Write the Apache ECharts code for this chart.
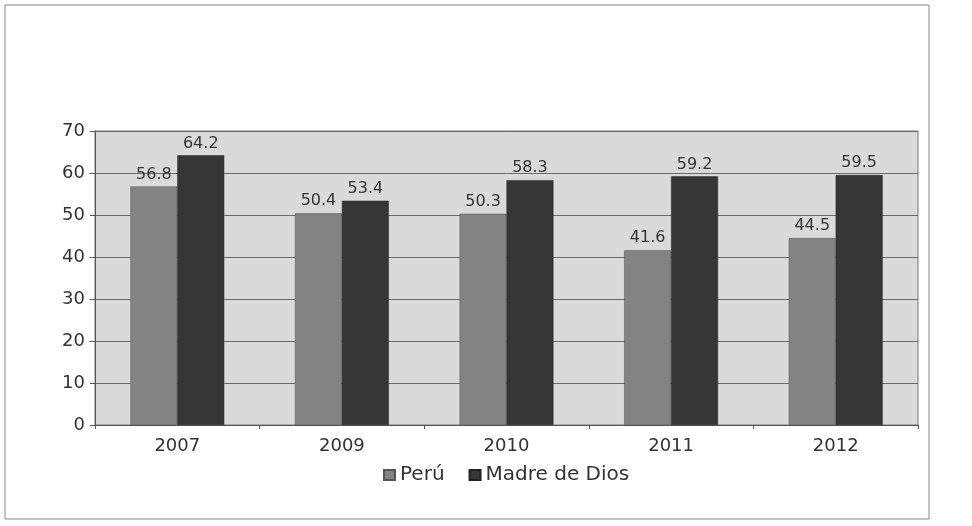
<!DOCTYPE html>
<html>
<head>
<meta charset="utf-8">
<script src="https://cdn.jsdelivr.net/npm/echarts@6/dist/echarts.min.js"></script>
<style>
  html, body { margin: 0; padding: 0; background: #fff; }
  #chart { width: 972px; height: 526px; }
</style>
</head>
<body>
<div id="chart"></div>
<script>
// datos
const years = ['2007', '2009', '2010', '2011', '2012'];
const peru = [56.8, 50.4, 50.3, 41.6, 44.5];
const madreDeDios = [64.2, 53.4, 58.3, 59.2, 59.5];

const chart = echarts.init(document.getElementById('chart'));

const font = 'DejaVu Sans, Verdana, sans-serif';
const labelStyle = {
    show: true,
    position: 'top',
    distance: 4,
    color: '#333',
    fontFamily: font,
    fontSize: 16,
    formatter: p => p.value.toFixed(1)
};

chart.setOption({
    backgroundColor: '#fff',
    animation: false,
    textStyle: { fontFamily: font },
    // marco exterior del recorte escaneado
    graphic: [{
        type: 'rect',
        shape: { x: 5, y: 5, width: 924, height: 514 },
        style: { fill: 'none', stroke: '#888', lineWidth: 1 },
        silent: true
    }],
    grid: {
        left: 95, right: 54, top: 131, bottom: 101,
        show: true,
        backgroundColor: '#dadada',
        borderColor: '#777',
        borderWidth: 1
    },
    legend: {
        data: ['Perú', 'Madre de Dios'],
        left: 378,
        top: 460,
        icon: 'rect',
        itemWidth: 11,
        itemHeight: 10,
        itemGap: 24,
        textStyle: { fontSize: 20, color: '#333' }
    },
    xAxis: {
        type: 'category',
        data: years,
        axisLine: { lineStyle: { color: '#555' } },
        axisTick: { show: true, length: 4, lineStyle: { color: '#555' } },
        axisLabel: { color: '#333', fontSize: 18, margin: 12 }
    },
    yAxis: {
        type: 'value',
        min: 0, max: 70, interval: 10,
        axisLine: { show: true, lineStyle: { color: '#555' } },
        axisTick: { show: true, length: 5, lineStyle: { color: '#555' } },
        axisLabel: { color: '#333', fontSize: 18, margin: 10 },
        splitLine: { lineStyle: { color: '#6a6a6a', width: 1 } }
    },
    series: [
        {
            name: 'Perú',
            type: 'bar',
            z: 2,
            data: peru,
            barGap: '0%',
            barCategoryGap: '43%',
            itemStyle: { color: '#838383', borderColor: '#555', borderWidth: 0.5 },
            label: labelStyle
        },
        {
            name: 'Madre de Dios',
            type: 'bar',
            z: 3,
            data: madreDeDios,
            barGap: '0%',
            barCategoryGap: '43%',
            itemStyle: { color: '#363636', borderColor: '#222', borderWidth: 0.5 },
            label: labelStyle
        }
    ]
});

window.addEventListener('resize', () => chart.resize());
</script>
</body>
</html>
